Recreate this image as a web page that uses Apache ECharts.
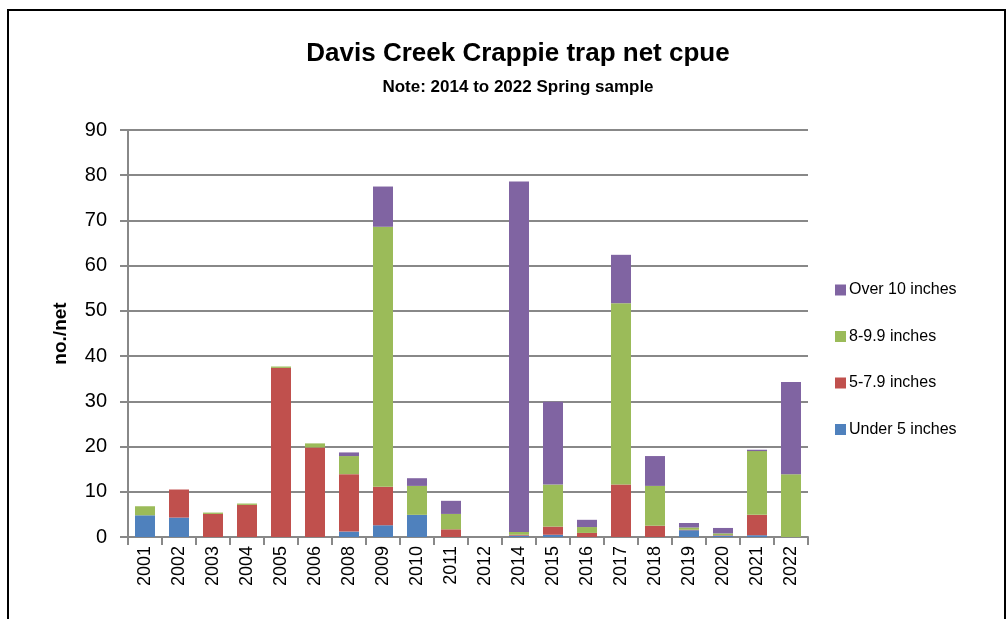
<!DOCTYPE html>
<html>
<head>
<meta charset="utf-8">
<script src="https://cdn.jsdelivr.net/npm/echarts@6/dist/echarts.min.js"></script>
<style>
html,body{margin:0;padding:0;background:#fff;}
#c{width:1008px;height:619px;}
</style>
</head>
<body>
<div id="c"></div>
<script>
const years = ['2001','2002','2003','2004','2005','2006','2008','2009','2010','2011','2012','2014','2015','2016','2017','2018','2019','2020','2021','2022'];
const under5   = [4.8, 4.3, 0,   0,   0,    0,    1.2, 2.6,  4.9, 0,   0, 0.3,  0.5, 0,   0,    0,   1.5, 0.3, 0.4,  0];
const in5to79  = [0,   6.2, 5.1, 7.1, 37.4, 19.8, 12.7, 8.5, 0,   1.7, 0, 0.2,  1.8, 0.9, 11.6, 2.5, 0.1, 0.1, 4.5,  0];
const in8to99  = [2.0, 0,   0.3, 0.3, 0.3,  0.9,  4.0, 57.5, 6.4, 3.4, 0, 0.6,  9.3, 1.3, 40.1, 8.8, 0.5, 0.4, 14.1, 13.9];
const over10   = [0,   0,   0,   0,   0,    0,    0.8, 8.9,  1.7, 2.9, 0, 77.5, 18.3, 1.6, 10.7, 6.6, 1.0, 1.2, 0.3,  20.4];
const seriesNames = ['Under 5 inches','5-7.9 inches','8-9.9 inches','Over 10 inches'];
const yTicks = [0,10,20,30,40,50,60,70,80,90];

const colors = ['#4F81BD','#C0504D','#9BBB59','#8064A2'];
const dataSets = [under5, in5to79, in8to99, over10];
const font = 'Liberation Sans';

const chart = echarts.init(document.getElementById('c'), null, {renderer:'canvas'});
chart.setOption({
  animation:false,
  backgroundColor:'#fff',
  graphic:[{type:'rect',shape:{x:8,y:10,width:997,height:640},style:{fill:'none',stroke:'#000',lineWidth:2},z:-1}],
  title:{
    text:'Davis Creek Crappie trap net cpue',
    subtext:'Note: 2014 to 2022 Spring sample',
    left:513, textAlign:'center', top:36, itemGap:12,
    textStyle:{fontFamily:font,fontWeight:'bold',fontSize:26,color:'#000'},
    subtextStyle:{fontFamily:font,fontWeight:'bold',fontSize:17,color:'#000'}
  },
  legend:{
    orient:'vertical', left:830, top:277, itemGap:30.5,
    itemWidth:11, itemHeight:11, icon:'rect',
    data:['Over 10 inches','8-9.9 inches','5-7.9 inches','Under 5 inches'],
    textStyle:{fontFamily:font,fontSize:16,color:'#000',padding:[0,0,0,-2]}
  },
  grid:{left:128,right:200,top:130,bottom:82,containLabel:false},
  xAxis:{
    type:'category', data:years, boundaryGap:true,
    axisLine:{lineStyle:{color:'#888',width:2}},
    axisTick:{show:true,length:8,lineStyle:{color:'#888',width:2}},
    axisLabel:{rotate:90,margin:9,fontFamily:font,fontSize:18,color:'#000',interval:0}
  },
  yAxis:{
    type:'value', min:0, max:90, interval:10,
    name:'no./net', nameLocation:'middle', nameGap:58, nameRotate:90,
    nameTextStyle:{fontFamily:font,fontWeight:'bold',fontSize:19,color:'#000'},
    axisLine:{show:true,lineStyle:{color:'#888',width:2}},
    axisTick:{show:true,length:8,lineStyle:{color:'#888',width:2}},
    splitLine:{lineStyle:{color:'#888',width:2}},
    axisLabel:{fontFamily:font,fontSize:20,color:'#000',margin:21,
      formatter:v=>yTicks.includes(v)?String(v):''}
  },
  series: seriesNames.map((n,i)=>({
    name:n, type:'bar', stack:'total', data:dataSets[i],
    barWidth:20,
    itemStyle:{color:colors[i]},
    emphasis:{disabled:true}
  }))
});
</script>
</body>
</html>
